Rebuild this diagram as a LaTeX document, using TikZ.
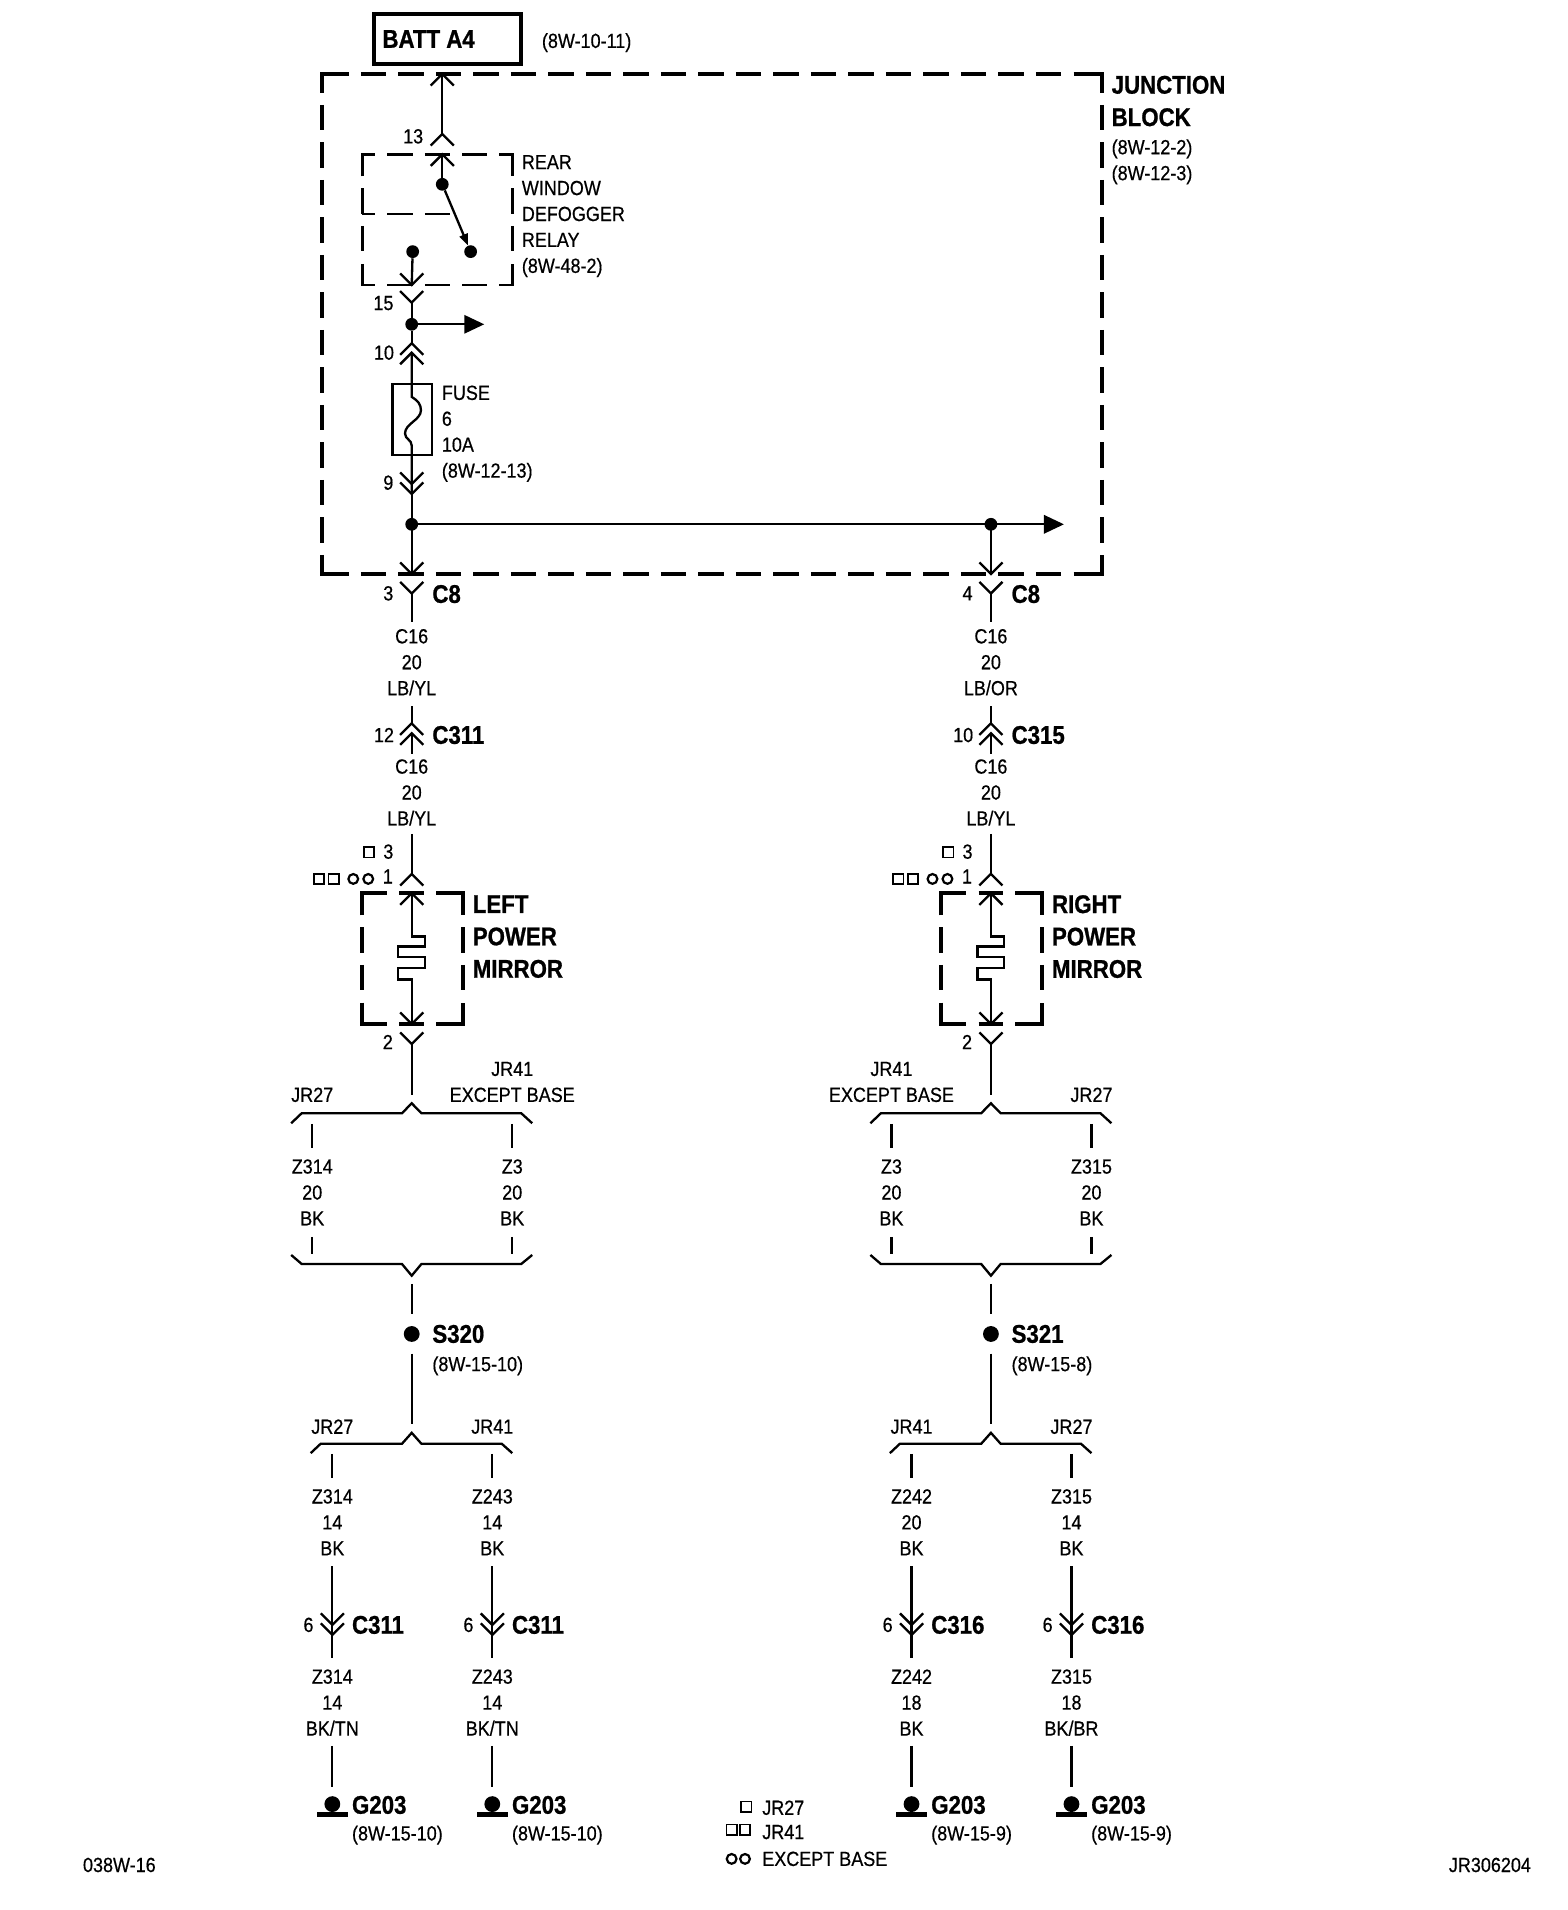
\documentclass[tikz,border=0pt]{standalone}
\usepackage{fontspec}
\setmainfont[FakeStretch=0.88,FakeBold=0.5,BoldFeatures={FakeStretch=0.87,FakeBold=0.8}]{Liberation Sans}
\usetikzlibrary{arrows.meta}
\tikzset{
  wire/.style={line width=1.9pt,line join=miter},
  heavy/.style={line width=3.2pt,line join=miter},
  lightb/.style={line width=2.1pt,line join=miter},
  lbl/.style={font=\fontsize{16.8}{21.3}\selectfont,inner sep=0pt,align=center},
  lbll/.style={lbl,align=left,anchor=west},
  blbl/.style={font=\fontsize{21}{26.6}\selectfont\bfseries,inner sep=0pt,align=left,anchor=west},
  dot/.style={circle,fill=black,inner sep=0pt,minimum size=10.5pt},
  splice/.style={circle,fill=black,inner sep=0pt,minimum size=13pt},
  sq/.style={draw,line width=1.3pt,inner sep=0pt,minimum size=8.5pt},
  rnd/.style={draw,circle,line width=1.8pt,inner sep=0pt,minimum size=8pt},
  upchev/.pic={\draw[wire] (-9.5,9.5) -- (0,0) -- (9.5,9.5);},
  dnchev/.pic={\draw[wire] (-9.5,-9.5) -- (0,0) -- (9.5,-9.5);},
  tip/.style={-{Triangle[length=16.4pt,width=15pt]}}
}
% style, left, top, right, bottom, first and last dash across, first and last dash down
\newcommand{\dashedbox}[9]{
  \draw[#1] (#2,#8-9.9) -- (#2,#3) -- (#6-9.9,#3);
  \draw[#1] (#7+9.9,#3) -- (#4,#3) -- (#4,#8-9.9);
  \draw[#1] (#2,#9+9.9) -- (#2,#5) -- (#6-9.9,#5);
  \draw[#1] (#7+9.9,#5) -- (#4,#5) -- (#4,#9+9.9);
  \draw[#1,dash pattern=on 20.9pt off 9.9pt] (#6,#3) -- (#7,#3);
  \draw[#1,dash pattern=on 20.9pt off 9.9pt] (#6,#5) -- (#7,#5);
  \draw[#1,dash pattern=on 20.9pt off 9.9pt] (#2,#8) -- (#2,#9);
  \draw[#1,dash pattern=on 20.9pt off 9.9pt] (#4,#8) -- (#4,#9);
}
\begin{document}
\begin{tikzpicture}[x=1pt,y=-1pt]
\useasboundingbox (0,0) rectangle (1288,1569);
% battery and junction block
\node[draw,line width=3.2pt,minimum width=121pt,minimum height=41pt,inner sep=0pt] (batt) at (367.6,32) {};
\node[blbl] (battlbl) at (314,32) {BATT A4};
\node[lbll] (battref) at (445,35) {(8W-10-11)};
\dashedbox{heavy}{264.2}{60.8}{905}{471.5}{296.5}{872.1}{86.2}{446}
\node[blbl] (jblbl) at (913,83) {JUNCTION\\BLOCK};
\node[lbll] (jbref) at (913,133) {(8W-12-2)\\(8W-12-3)};
% relay
\coordinate (c13a) at (363.3,60.8);
\coordinate (c13b) at (363.3,110);
\coordinate (c13c) at (363.3,126.8);
\node[dot] (swa) at (363.3,151.4) {};
\node[dot] (swb) at (386.6,206.7) {};
\node[dot] (swc) at (339,206.7) {};
\coordinate (c15a) at (338.2,234.1);
\coordinate (c15b) at (338.2,248.6);
\draw[wire] (c13a) -- (c13b);
\draw[wire] (c13c) -- (swa);
\draw[wire,-{Triangle[length=9.5pt,width=7pt]}] (swa) -- (swb);
\draw[wire] (swc) -- (c15a);
\pic at (c13a) {upchev};
\pic at (c13b) {upchev};
\pic at (c13c) {upchev};
\pic at (c15a) {dnchev};
\pic at (c15b) {dnchev};
\dashedbox{lightb}{297.6}{126.8}{420.9}{234.1}{318.2}{400.4}{154.7}{206.8}
\draw[lightb] (297.6,175.8) -- (308,175.8);
\draw[lightb,dash pattern=on 20.9pt off 9.9pt] (318.2,175.8) -- (370.6,175.8);
\node[lbl] (p13) at (339.4,112) {13};
\node[lbl] (p15) at (315,249) {15};
\node[lbll] (relaylbl) at (428.5,177.5) {REAR\\WINDOW\\DEFOGGER\\RELAY\\(8W-48-2)};
% fuse
\node[dot] (nodea) at (338.2,266.4) {};
\coordinate (taila) at (397.8,266.4);
\coordinate (c10a) at (338.2,282);
\coordinate (c10b) at (338.2,289.7);
\coordinate (c9a) at (338.2,397.6);
\coordinate (c9b) at (338.2,405.8);
\node[dot] (nodeb) at (338.2,430.7) {};
\node[dot] (nodec) at (814,430.7) {};
\coordinate (tailb) at (874,430.7);
\draw[wire] (c15b) -- (nodea);
\draw[wire,tip] (nodea) -- (taila);
\draw[wire] (nodea) -- (c10a);
\pic at (c10a) {upchev};
\pic at (c10b) {upchev};
\draw[lightb] (322.3,315.4) rectangle (355,373.7);
\draw[wire] (c10b) -- (338.2,326) .. controls (343,329) and (345.8,332) .. (345.8,337)
  .. controls (345.8,345) and (332.7,348) .. (332.7,356) .. controls (332.7,361) and (338.2,361) .. (338.2,366) -- (c9b);
\pic at (c9a) {dnchev};
\pic at (c9b) {dnchev};
\draw[wire] (c9b) -- (nodeb);
\draw[wire,tip] (nodeb) -- (tailb);
\node[lbl] (p10) at (315.4,289.7) {10};
\node[lbl] (p9) at (319,396.5) {9};
\node[lbll] (fuselbl) at (362.8,356.3) {FUSE\\6\\10A\\(8W-12-13)};
% mirror columns
\foreach \s/\cx/\pa/\cola/\pb/\cb/\mname/\tl/\tr/\zl/\zr/\spl/\sref/\bl/\br in {
  l/338.2/3/{LB/YL}/12/C311/LEFT/JR27/{JR41\\EXCEPT BASE}/Z314/Z3/S320/8W-15-10/JR27/JR41,
  r/814/4/{LB/OR}/10/C315/RIGHT/{JR41\\EXCEPT BASE}/JR27/Z3/Z315/S321/8W-15-8/JR41/JR27}{
  \coordinate (\s a) at (\cx,471.5);
  \coordinate (\s b) at (\cx,487.5);
  \coordinate (\s c) at (\cx,594.2);
  \coordinate (\s d) at (\cx,602.3);
  \coordinate (\s e) at (\cx,717.9);
  \coordinate (\s f) at (\cx,733.8);
  \coordinate (\s g) at (\cx,841.2);
  \coordinate (\s h) at (\cx,857.6);
  \draw[wire] (\cx,430.7) -- (\s a);
  \pic at (\s a) {dnchev};
  \pic at (\s b) {dnchev};
  \draw[wire] (\s b) -- (\cx,511);
  \draw[wire] (\cx,580) -- (\s c);
  \draw[wire] (\s d) -- (\cx,619.4);
  \pic at (\s c) {upchev};
  \pic at (\s d) {upchev};
  \draw[wire] (\cx,685) -- (\s e);
  \pic at (\s e) {upchev};
  \pic at (\s f) {upchev};
  \draw[wire] (\s f) -- (\cx,769.4) -- (\cx+11,769.4) -- (\cx+11,777.6) -- (\cx-11,777.6) -- (\cx-11,786.4)
    -- (\cx+11,786.4) -- (\cx+11,795.4) -- (\cx-11,795.4) -- (\cx-11,804.5) -- (\cx,804.5) -- (\s g);
  \pic at (\s g) {dnchev};
  \pic at (\s h) {dnchev};
  \dashedbox{heavy}{\cx-41}{733.8}{\cx+42}{841.2}{\cx-10.2}{\cx+10.2}{761.8}{813.8}
  \draw[wire] (\s h) -- (\cx,899.5);
  \draw[wire] (\cx-99,922.7) -- (\cx-90.4,914.5) -- (\cx-8,914.5) -- (\cx,906.3) -- (\cx+8,914.5) -- (\cx+90,914.5) -- (\cx+99,922.7);
  \draw[wire] (\cx-81.7,923.3) -- (\cx-81.7,943.3);
  \draw[wire] (\cx+82.6,923.3) -- (\cx+82.6,943.3);
  \draw[wire] (\cx-81.7,1016) -- (\cx-81.7,1030);
  \draw[wire] (\cx+82.6,1016) -- (\cx+82.6,1030);
  \draw[wire] (\cx-99,1030.9) -- (\cx-90.4,1038.3) -- (\cx-8,1038.3) -- (\cx,1047.9) -- (\cx+8,1038.3) -- (\cx+90,1038.3) -- (\cx+99,1030.9);
  \node[splice] (\s spl) at (\cx,1095.8) {};
  \draw[wire] (\cx,1054.7) -- (\cx,1079.4);
  \draw[wire] (\cx,1112) -- (\cx,1169.7);
  \draw[wire] (\cx-83,1193.7) -- (\cx-74.8,1186) -- (\cx-8,1186) -- (\cx,1177) -- (\cx+8,1186) -- (\cx+74,1186) -- (\cx+82.6,1193.7);
  \node[lbl] (\s pa) at (\cx-19.2,487.4) {\pa};
  \node[blbl] (\s ca) at (\cx+16.8,488) {C8};
  \node[lbl] (\s wa) at (\cx,544) {C16\\20\\\cola};
  \node[lbl] (\s pb) at (\cx-22.8,603.8) {\pb};
  \node[blbl] (\s cb) at (\cx+16.8,603.8) {\cb};
  \node[lbl] (\s wb) at (\cx,651) {C16\\20\\LB/YL};
  \node[lbl] (\s ptr) at (\cx-19.2,699.6) {3};
  \node[lbl] (\s pon) at (\cx-19.6,720) {1};
  \node[lbl] (\s ptw) at (\cx-19.6,856) {2};
  \node[sq] (\s sqa) at (\cx-35,700.1) {};
  \node[sq] (\s sqb) at (\cx-76.2,722) {};
  \node[sq] (\s sqc) at (\cx-64,722) {};
  \node[rnd] (\s rda) at (\cx-48,722) {};
  \node[rnd] (\s rdb) at (\cx-35.7,722) {};
  \node[blbl] (\s mir) at (\cx+50,769.4) {\mname\\POWER\\MIRROR};
  \node[lbl,anchor=south] (\s tl) at (\cx-81.7,905.5) {\tl};
  \node[lbl,anchor=south] (\s tr) at (\cx+82.6,905.5) {\tr};
  \node[lbl] (\s zl) at (\cx-81.7,979.5) {\zl\\20\\BK};
  \node[lbl] (\s zr) at (\cx+82.6,979.5) {\zr\\20\\BK};
  \node[blbl] (\s spn) at (\cx+16.8,1095.8) {\spl};
  \node[lbll] (\s spr) at (\cx+16.8,1122) {(\sref)};
  \node[lbl] (\s bl) at (\cx-65.2,1172) {\bl};
  \node[lbl] (\s br) at (\cx+66.2,1172) {\br};
}
% ground drops
\foreach \d/\x/\na/\ga/\nb/\gb/\colb/\cn/\gref in {
  a/273/Z314/14/Z314/14/{BK/TN}/C311/8W-15-10,
  b/404.4/Z243/14/Z243/14/{BK/TN}/C311/8W-15-10,
  c/748.8/Z242/20/Z242/18/BK/C316/8W-15-9,
  d/880.2/Z315/14/Z315/18/{BK/BR}/C316/8W-15-9}{
  \coordinate (\d c) at (\x,1334.8);
  \coordinate (\d e) at (\x,1343);
  \draw[wire] (\x,1194.3) -- (\x,1214);
  \draw[wire] (\x,1286.4) -- (\d e);
  \pic at (\d c) {dnchev};
  \pic at (\d e) {dnchev};
  \draw[wire] (\d e) -- (\x,1362);
  \draw[wire] (\x,1434.2) -- (\x,1467.6);
  \node[circle,fill=black,inner sep=0pt,minimum size=13pt] (\d dome) at (\x,1482) {};
  \draw[line width=4.2pt] (\x-12.5,1490.2) -- (\x+12.5,1490.2);
  \node[lbl] (\d top) at (\x,1250.5) {\na\\\ga\\BK};
  \node[lbl] (\d pin) at (\x-19.6,1334.8) {6};
  \node[blbl] (\d con) at (\x+16,1334.8) {\cn};
  \node[lbl] (\d bot) at (\x,1398.6) {\nb\\\gb\\\colb};
  \node[blbl] (\d gnd) at (\x+16,1482.7) {G203};
  \node[lbll] (\d ref) at (\x+16,1507.5) {(\gref)};
}
% legend and page marks
\node[sq] (legsq) at (613,1484) {};
\node[sq] (legsqa) at (601,1503) {};
\node[sq] (legsqb) at (612,1503) {};
\node[rnd] (legrda) at (601,1527) {};
\node[rnd] (legrdb) at (612,1527) {};
\node[lbll] (legj) at (626,1485) {JR27};
\node[lbll] (legk) at (626,1505) {JR41};
\node[lbll] (legb) at (626,1527) {EXCEPT BASE};
\node[lbll] (pageno) at (68,1532) {038W-16};
\node[lbll] (drawno) at (1190,1532) {JR306204};
\end{tikzpicture}
\end{document}
